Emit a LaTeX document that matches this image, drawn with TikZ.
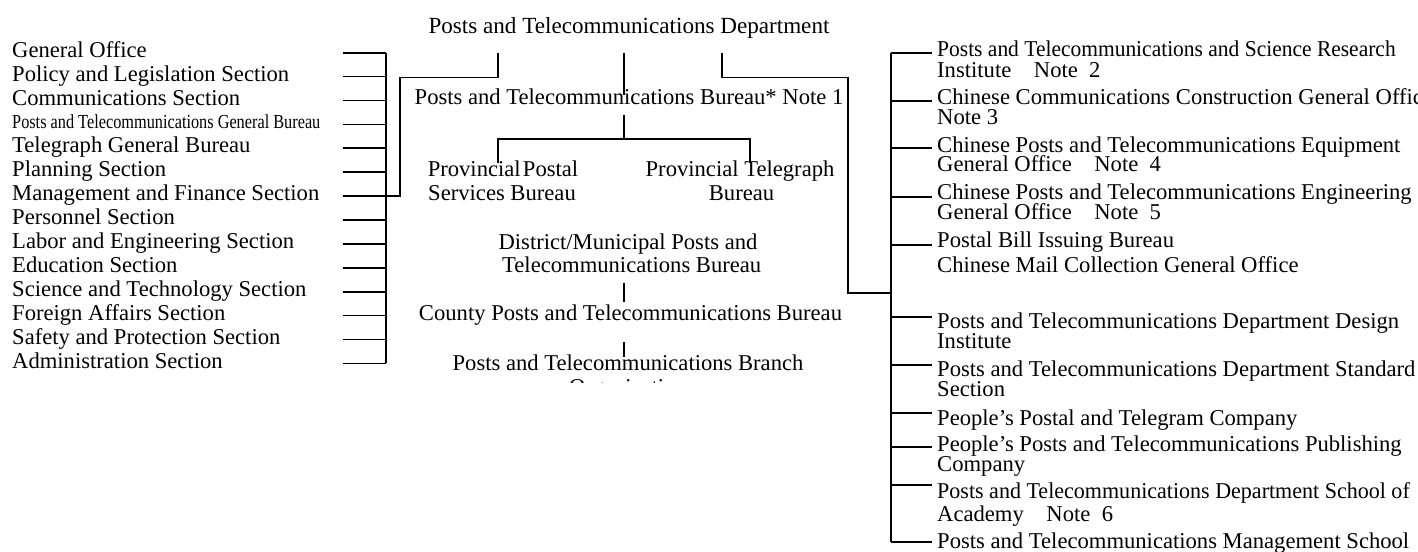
\documentclass[tikz,border=0pt]{standalone}
\usepackage{fontspec}
\setmainfont{Liberation Serif}
\usepackage{graphicx}
\usepackage{tikz}
\usetikzlibrary{positioning}
\newcommand{\orgfont}{\fontsize{22.7}{24}\selectfont}

\begin{document}
\begin{tikzpicture}[
  x=1bp, y=-1bp,
  txt/.style={font=\orgfont, inner sep=0pt},
  item/.style={txt, anchor=base west},
  mid/.style={txt, anchor=base},
  ln/.style={line width=1.7bp, line join=miter},
]
\useasboundingbox (0,0) rectangle (1418,552);
\clip (0,0) rectangle (1418,552);
\def\xl{12}\def\xt{343}\def\xb{386}\def\xr{937}\def\xrb{890.7}\def\xrt{931.7}

% ---------- department ----------
\node[mid, font=\fontsize{23.2}{24}\selectfont] (dept) at (629,33.5) {Posts and Telecommunications Department};
\coordinate (dl) at (498,53);
\coordinate (dc) at (624,53);
\coordinate (dr) at (722,53);

% ---------- sections (left) ----------
\coordinate (lbar) at (\xb,0);
\foreach \t [count=\i from 0] in {General Office, Policy and Legislation Section,
  Communications Section, \scalebox{0.72}[0.88]{Posts and Telecommunications General Bureau},
  Telegraph General Bureau, Planning Section, Management and Finance Section,
  Personnel Section, Labor and Engineering Section, Education Section,
  Science and Technology Section, Foreign Affairs Section,
  Safety and Protection Section, Administration Section}{
  \node[item] (l\i) at (\xl,57.3+23.9*\i) {\t};
  \coordinate (lt\i) at (\xt,52.7+23.9*\i);
  \draw[ln] (lt\i) -- (lt\i -| lbar);
}
\draw[ln] (lt0 -| lbar) -- (lt13 -| lbar);
\draw[ln] (lt6 -| lbar) -| (400,77.5) -| (dl);

% ---------- bureau chain (middle) ----------
\draw[ln] (dc) -- (624,95);
\node[mid] (bur) at (629,105) {Posts and Telecommunications Bureau* Note 1};
\coordinate (bj) at (624,139);
\draw[ln] (624,115) -- (bj);
\draw[ln] (498,163) |- (750,139) -- (750,163);

\node[mid] (pps) at (503,176.7) {Provincial\hspace{0.1em}Postal};
\node[mid] (pps2) at (502,200.5) {Services Bureau};
\node[mid] (ptb) at (740,176.7) {Provincial Telegraph};
\node[mid] (ptb2) at (741.5,200.5) {Bureau};

\node[mid] (dis) at (628,249.3) {District/Municipal Posts and};
\node[mid] (dis2) at (631.7,272.7) {Telecommunications Bureau};
\draw[ln] (624,283) -- (624,301.7);
\node[mid] (cty) at (630.5,320) {County Posts and Telecommunications Bureau};
\draw[ln] (624,341.7) -- (624,356.7);
\node[mid] (br) at (628,370) {Posts and Telecommunications Branch};
\begin{scope}
  \clip (400,300) rectangle (880,382.5);
  \node[mid] (br2) at (628,394) {Organization};
\end{scope}

% ---------- affiliated units (right) ----------
\draw[ln] (dr) |- (848,77.5) |- (\xrb,293.3);
\draw[ln] (\xrb,53.3) -- (\xrb,541.7);
\foreach \y in {53.3,101,148.3,196.7,245,317.3,365,412.7,447.3,485,541.7}{
  \draw[ln] (\xrb,\y) -- (\xrt,\y);
}

\node[item] (r1) at (\xr,56.7) {\scalebox{0.95}[1]{Posts and Telecommunications and Science Research}};
\node[item] (r1b) at (\xr,77.3) {Institute\quad Note\enspace 2};
\node[item] (r2) at (\xr,105) {Chinese Communications Construction General Office};
\node[item] (r2b) at (\xr,125) {Note 3};
\node[item] (r3) at (\xr,152.7) {Chinese Posts and Telecommunications Equipment};
\node[item] (r3b) at (\xr,171.7) {General Office\quad Note\enspace 4};
\node[item] (r4) at (\xr,200) {Chinese Posts and Telecommunications Engineering};
\node[item] (r4b) at (\xr,220) {General Office\quad Note\enspace 5};
\node[item] (r5) at (\xr,247.3) {Postal Bill Issuing Bureau};
\node[item] (r6) at (\xr,272.7) {Chinese Mail Collection General Office};
\node[item] (r7) at (\xr,328.3) {Posts and Telecommunications Department Design};
\node[item] (r7b) at (\xr,348.3) {Institute};
\node[item] (r8) at (\xr,376.7) {Posts and Telecommunications Department Standard};
\node[item] (r8b) at (\xr,396.7) {Section};
\node[item] (r9) at (\xr,425) {People's Postal and Telegram Company};
\node[item] (r10) at (\xr,451) {People's Posts and Telecommunications Publishing};
\node[item] (r10b) at (\xr,471.7) {Company};
\node[item] (r11) at (\xr,498.3) {\scalebox{0.974}[1]{Posts and Telecommunications Department School of}};
\node[item] (r11b) at (\xr,521.7) {Academy\quad Note\enspace 6};
\node[item] (r12) at (\xr,548.3) {Posts and Telecommunications Management School};
\end{tikzpicture}
\end{document}
